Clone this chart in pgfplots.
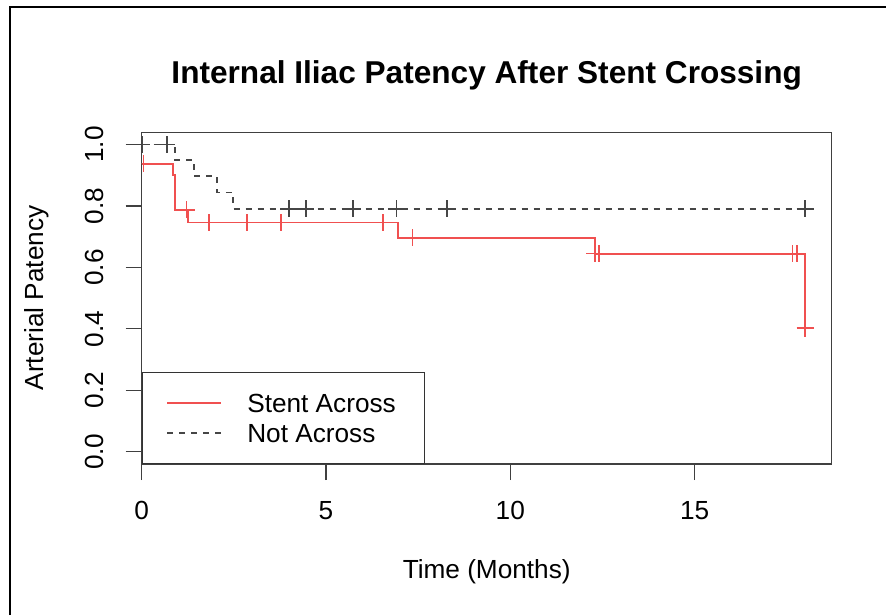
\documentclass[border=0pt]{standalone}
\usepackage{fontspec}
\setmainfont{Liberation Sans}
\usepackage{pgfplots}
\pgfplotsset{compat=1.18}
\definecolor{kmred}{RGB}{240,80,80}
\definecolor{kmgray}{RGB}{70,70,70}
\newcommand{\lbl}{\fontsize{13.1}{15.7}\selectfont}
\newcommand{\ttl}{\fontsize{15.8}{18.9}\selectfont\bfseries}
\begin{document}
\begin{tikzpicture}
\path[use as bounding box] (0,0) rectangle (443pt,307.5pt);
\draw[line width=0.8pt] (5pt,0pt) -- (5pt,304pt) -- (443pt,304pt);
\begin{axis}[
  at={(70.85pt,75.5pt)}, anchor=south west,
  scale only axis, width=345pt, height=165.85pt,
  xmin=0, xmax=18.72, ymin=-0.04, ymax=1.04,
  xtick={0,5,10,15}, ytick={0,0.2,0.4,0.6,0.8,1.0},
  yticklabels={0.0,0.2,0.4,0.6,0.8,1.0},
  tick pos=left, tick align=outside, major tick length=8pt,
  tick style={black!75, line width=0.6pt},
  axis line style={black!75, line width=0.6pt},
  /pgf/number format/assume math mode=true,
  ticklabel style={font=\lbl, text=black},
  xticklabel style={anchor=north, inner sep=0pt},
  yticklabel style={rotate=90, anchor=south, inner sep=0pt},
  xticklabel shift=10.5pt, yticklabel shift=10.75pt,
  clip marker paths=true,
  legend cell align=left,
  legend image code/.code={\path[draw=none,fill=none] (0pt,-7.5pt) rectangle (52.5pt,7.5pt); \draw[#1] (12.5pt,0pt) -- (39.5pt,0pt);},
  legend style={at={(0,0)}, anchor=south west, draw=black!80, fill=white, line width=0.6pt,
    inner xsep=0pt, inner ysep=7.75pt, row sep=0pt,
    nodes={inner sep=0pt, font=\lbl, text height=12.2pt, text depth=2.8pt}},
]
% Stent Across
\addplot[const plot, color=kmred, line width=0.9pt] coordinates {
 (0,0.938) (0.84,0.902) (0.90,0.787) (1.26,0.746) (6.95,0.697) (12.29,0.645) (18.0,0.402)
};
\addlegendentry{\makebox[88.5pt][l]{Stent Across}}
% Not Across
\addplot[const plot, color=kmgray, line width=0.8pt, dash pattern=on 3pt off 3pt] coordinates {
 (0,1) (0.90,0.949) (1.42,0.897) (2.05,0.844) (2.48,0.791) (18.0,0.791)
};
\addlegendentry{\makebox[88.5pt][l]{Not Across}}
% censor marks
\addplot[forget plot, only marks, mark=+, mark size=4.25pt, color=kmred, line width=0.8pt] coordinates {
 (0.05,0.938) (1.22,0.787) (1.82,0.746) (2.86,0.746) (3.78,0.746) (6.54,0.746) (7.35,0.697)
 (12.29,0.645) (12.40,0.645) (17.66,0.645) (17.77,0.645) (18.0,0.402)
};
\addplot[forget plot, only marks, mark=+, mark size=4.25pt, color=kmgray, line width=0.8pt] coordinates {
 (0,1) (0.68,1) (3.99,0.791) (4.45,0.791) (5.73,0.791) (6.91,0.791) (8.28,0.791) (18.0,0.791)
};
\end{axis}
\node[font=\ttl, anchor=base] at (243.35pt,265.5pt) {Internal Iliac Patency After Stent Crossing};
\node[font=\lbl, anchor=base] at (243.35pt,18.5pt) {Time (Months)};
\node[font=\lbl, anchor=base, rotate=90] at (21.5pt,158.5pt) {Arterial Patency};
\end{tikzpicture}
\end{document}
